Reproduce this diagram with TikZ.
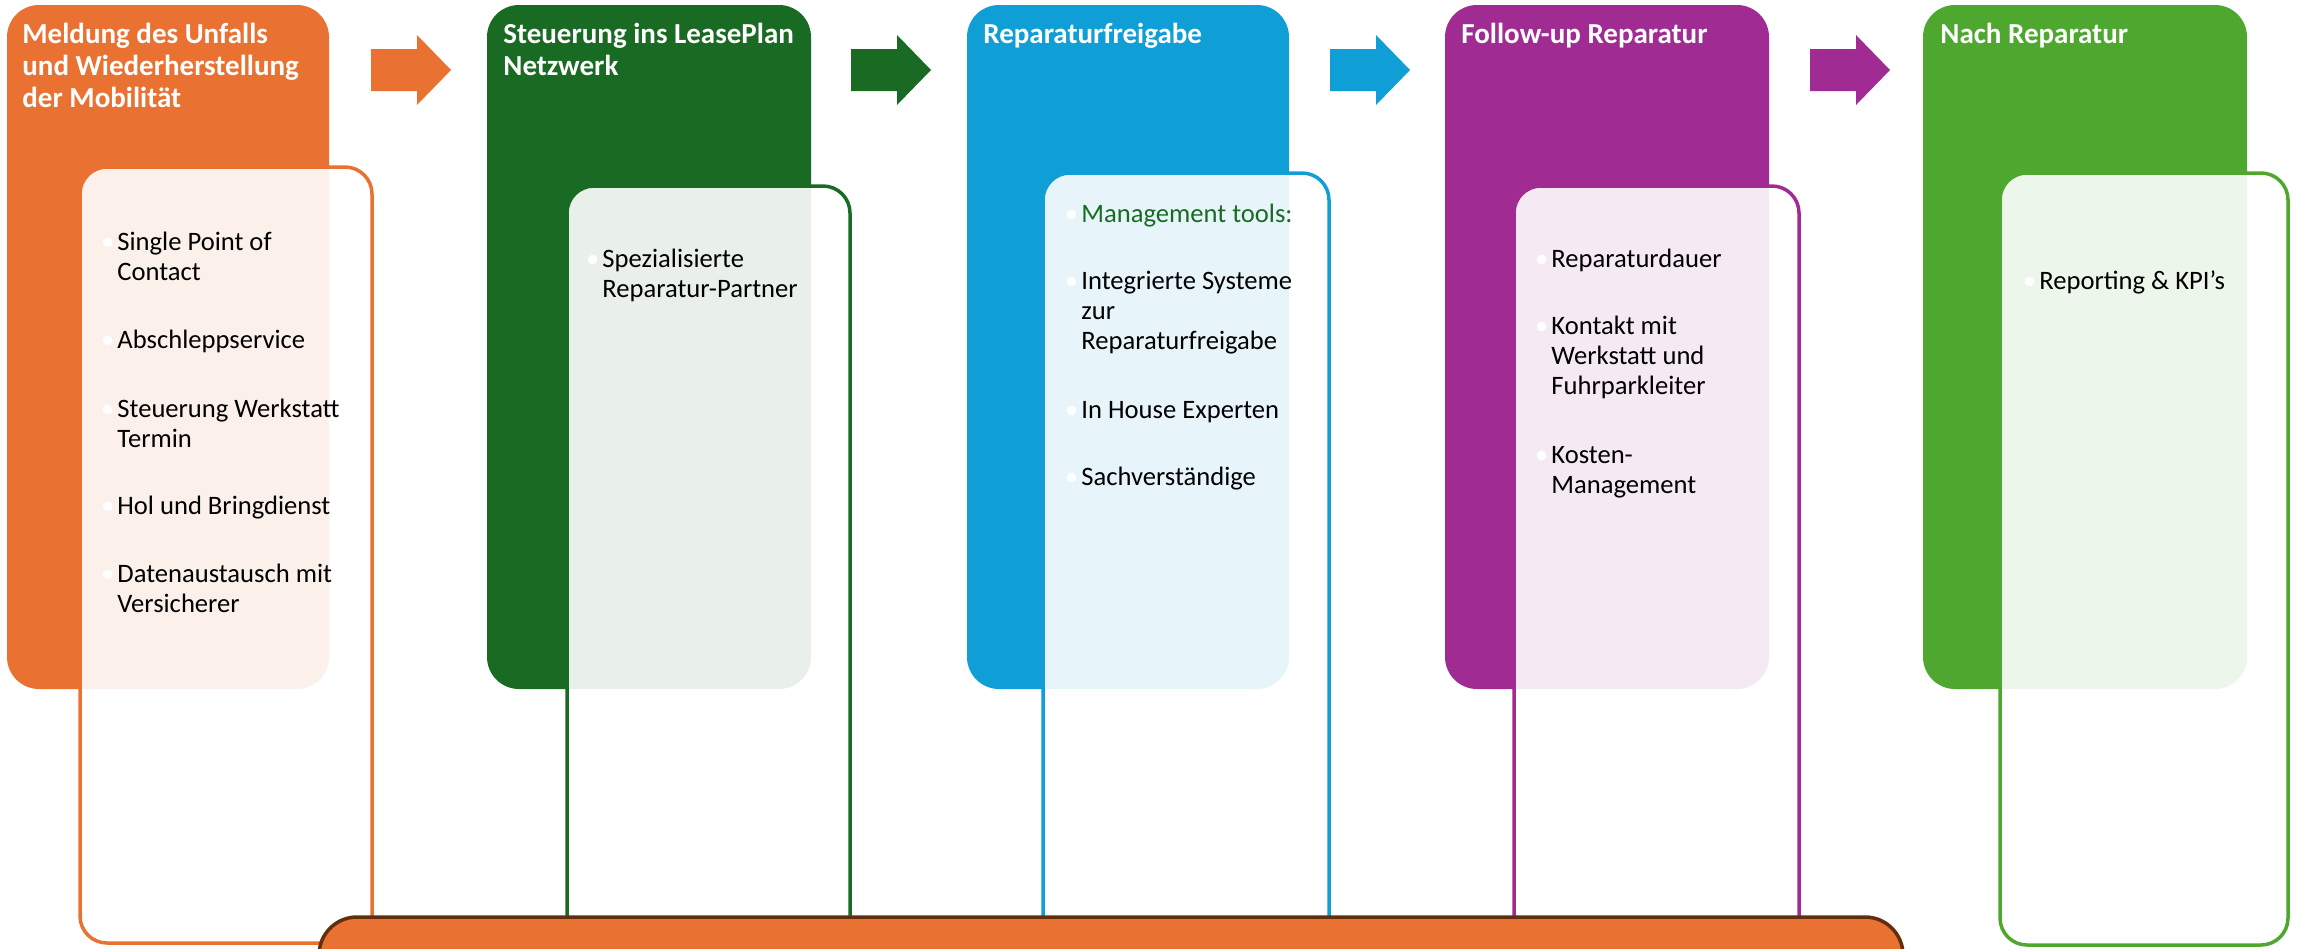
\documentclass[tikz,border=0pt]{standalone}
\usepackage{fontspec}
\setmainfont{Carlito}
\definecolor{accOrange}{RGB}{233,113,50}
\definecolor{accDkGreen}{RGB}{25,107,36}
\definecolor{accBlue}{RGB}{15,158,213}
\definecolor{accPurple}{RGB}{160,43,147}
\definecolor{accGreen}{RGB}{78,167,46}
\definecolor{barEdge}{RGB}{99,46,14}
\newcommand{\itembul}{\llap{\textcolor{white}{\textbullet}\hspace{1.5pt}}}

\begin{document}
\begin{tikzpicture}[x=0.5pt,y=0.5pt,yscale=-1,xscale=1,
    phase/.style={fill=#1,draw=none,rounded corners=16pt},
    detail/.style={draw=#1,line width=1.75pt,fill=white,fill opacity=0.9,draw opacity=1,rounded corners=13.5pt},
    blockarrow/.style={fill=#1,draw=none},
    headtxt/.style={anchor=north west,inner sep=0pt,align=left,text=white,font=\fontsize{14.5}{16}\selectfont\bfseries},
    itemtxt/.style={anchor=north west,inner sep=0pt,align=left,font=\fontsize{13.3}{15}\selectfont}]
                              \clip (0,0) rectangle (2297,948);

                              %Shape: Rounded Rect [phase 1]
                              \fill [phase=accOrange] (7,5) rectangle (329,689);
                              %Shape: Rounded Rect [phase 2]
                              \fill [phase=accDkGreen] (487,5) rectangle (811,689);
                              %Shape: Rounded Rect [phase 3]
                              \fill [phase=accBlue] (967,5) rectangle (1289,689);
                              %Shape: Rounded Rect [phase 4]
                              \fill [phase=accPurple] (1445,5) rectangle (1769,689);
                              %Shape: Rounded Rect [phase 5]
                              \fill [phase=accGreen] (1923,5) rectangle (2247,689);

                              %Shape: Rounded Rect [detail 1]
                              \draw [detail=accOrange] (80,167) rectangle (372,943);
                              %Shape: Rounded Rect [detail 2]
                              \draw [detail=accDkGreen] (567,186) rectangle (850,943);
                              %Shape: Rounded Rect [detail 3]
                              \draw [detail=accBlue] (1043,173) rectangle (1329,943);
                              %Shape: Rounded Rect [detail 4]
                              \draw [detail=accPurple] (1514,186) rectangle (1799,943);
                              %Shape: Rounded Rect [detail 5]
                              \draw [detail=accGreen] (2000,173) rectangle (2288,945);

                              %Shape: Right Arrow [1 to 2]
                              \fill [blockarrow=accOrange] (371,49) -- (417,49) -- (417,35) -- (451,70) -- (417,105) -- (417,91) -- (371,91) -- cycle ;
                              %Shape: Right Arrow [2 to 3]
                              \fill [blockarrow=accDkGreen] (851,49) -- (897,49) -- (897,35) -- (931,70) -- (897,105) -- (897,91) -- (851,91) -- cycle ;
                              %Shape: Right Arrow [3 to 4]
                              \fill [blockarrow=accBlue] (1330,49) -- (1376,49) -- (1376,35) -- (1410,70) -- (1376,105) -- (1376,91) -- (1330,91) -- cycle ;
                              %Shape: Right Arrow [4 to 5]
                              \fill [blockarrow=accPurple] (1810,49) -- (1856,49) -- (1856,35) -- (1890,70) -- (1856,105) -- (1856,91) -- (1810,91) -- cycle ;

                              %Shape: Rounded Rect [bottom bar]
                              \draw [fill=accOrange,draw=barEdge,line width=1.75pt,rounded corners=19pt] (319,917) rectangle (1903,1010);

                              % Text Node
                              \node [headtxt] (h1) at (22,20.6) {\strut Meldung des Unfalls\\und Wiederherstellung\\der Mobilität};
                              % Text Node
                              \node [headtxt] (h2) at (503,20.6) {\strut Steuerung ins LeasePlan\\Netzwerk};
                              % Text Node
                              \node [headtxt] (h3) at (983,20.6) {\strut Reparaturfreigabe};
                              % Text Node
                              \node [headtxt] (h4) at (1461,20.6) {\strut Follow-up Reparatur};
                              % Text Node
                              \node [headtxt] (h5) at (1940,20.6) {\strut Nach Reparatur};

                              % Text Node
                              \node [itemtxt] (i1a) at (117,229) {\strut\itembul Single Point of\\Contact};
                              % Text Node
                              \node [itemtxt] (i1b) at (117,327) {\strut\itembul Abschleppservice};
                              % Text Node
                              \node [itemtxt] (i1c) at (117,396) {\strut\itembul Steuerung Werkstatt\\Termin};
                              % Text Node
                              \node [itemtxt] (i1d) at (117,493) {\strut\itembul Hol und Bringdienst};
                              % Text Node
                              \node [itemtxt] (i1e) at (117,561) {\strut\itembul Datenaustausch mit\\Versicherer};

                              % Text Node
                              \node [itemtxt] (i2a) at (602,246) {\strut\itembul Spezialisierte\\Reparatur-Partner};

                              % Text Node
                              \node [itemtxt,text=accDkGreen] (i3a) at (1081,201) {\strut\itembul Management tools:};
                              % Text Node
                              \node [itemtxt] (i3b) at (1081,268) {\strut\itembul Integrierte Systeme\\zur\\Reparaturfreigabe};
                              % Text Node
                              \node [itemtxt] (i3c) at (1081,397) {\strut\itembul In House Experten};
                              % Text Node
                              \node [itemtxt] (i3d) at (1081,464) {\strut\itembul Sachverständige};

                              % Text Node
                              \node [itemtxt] (i4a) at (1551,246) {\strut\itembul Reparaturdauer};
                              % Text Node
                              \node [itemtxt] (i4b) at (1551,313) {\strut\itembul Kontakt mit\\Werkstatt und\\Fuhrparkleiter};
                              % Text Node
                              \node [itemtxt] (i4c) at (1551,442) {\strut\itembul Kosten-\\Management};

                              % Text Node
                              \node [itemtxt] (i5a) at (2039,268) {\strut\itembul Reporting \& KPI’s};
                        \end{tikzpicture}
\end{document}
